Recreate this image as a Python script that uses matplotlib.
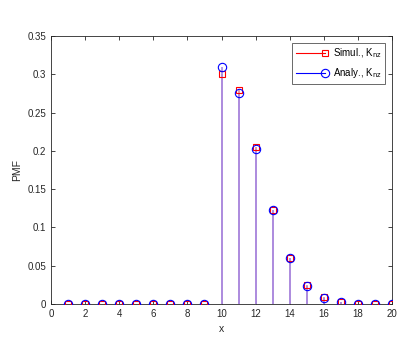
import matplotlib
matplotlib.use("Agg")
import matplotlib.pyplot as plt
from matplotlib.lines import Line2D
from matplotlib.legend_handler import HandlerLine2D
import numpy as np

plt.rcParams['font.family'] = ['Liberation Sans', 'DejaVu Sans']

x = list(range(1, 21))
simul = [0, 0, 0, 0, 0, 0, 0, 0, 0, 0.301, 0.279, 0.205, 0.123, 0.060, 0.025, 0.009, 0.0025, 0.0005, 0.0001, 0.0]
analy = [0, 0, 0, 0, 0, 0, 0, 0, 0, 0.309, 0.276, 0.203, 0.123, 0.060, 0.024, 0.008, 0.002, 0.0004, 0.0001, 0.0]

fig = plt.figure(figsize=(4.15, 3.47), dpi=100)
ax = fig.add_axes([0.1229, 0.1239, 0.8217, 0.7724])

ax.vlines(x, 0, simul, color='#e08aa0', lw=1.2, zorder=2)
ax.vlines(x, 0, analy, color='#a48ae8', lw=1.2, zorder=2)
ax.plot(x, simul, linestyle='none', marker='s', ms=4.5, mfc='none', mec='red', mew=0.8, zorder=3)
ax.plot(x, analy, linestyle='none', marker='o', ms=6, mfc='none', mec='blue', mew=0.8, zorder=4)

ax.set_xlim(0, 20)
ax.set_ylim(0, 0.35)
ax.set_xticks(range(0, 21, 2))
ax.set_yticks(np.arange(0, 0.351, 0.05))
ax.set_yticklabels(['0', '0.05', '0.1', '0.15', '0.2', '0.25', '0.3', '0.35'])
ax.tick_params(direction='in', top=True, right=True, labelsize=7, length=3, width=0.6, colors='#262626')
for s in ax.spines.values():
    s.set_color('#262626')
    s.set_linewidth(0.6)
ax.set_xlabel('x', fontsize=7.5, color='#262626')
ax.set_ylabel('PMF', fontsize=7.5, color='#262626')

handles = [Line2D([0], [0], color='red', lw=0.8, marker='s', ms=4.5),
           Line2D([0], [0], color='blue', lw=0.8, marker='o', ms=6)]

class H(HandlerLine2D):
    def create_artists(self, legend, orig_handle, xdescent, ydescent, width, height, fontsize, trans):
        l = Line2D([0, width], [height/2 - ydescent]*2, color=orig_handle.get_color(), lw=0.8, transform=trans)
        m = Line2D([width], [height/2 - ydescent], linestyle='none', marker=orig_handle.get_marker(),
                   ms=orig_handle.get_markersize(), mfc='none', mec=orig_handle.get_color(), mew=0.8, transform=trans)
        return [l, m]

leg = ax.legend(handles, [r'Simul., K$_{\mathrm{nz}}$', r'Analy., K$_{\mathrm{nz}}$'],
                loc='upper right', fontsize=7, frameon=True, fancybox=False, edgecolor='#262626',
                handler_map={Line2D: H()}, handlelength=3.0, borderaxespad=0.7, labelspacing=0.6)
leg.get_frame().set_linewidth(0.6)

fig.savefig('out.png', dpi=100)
